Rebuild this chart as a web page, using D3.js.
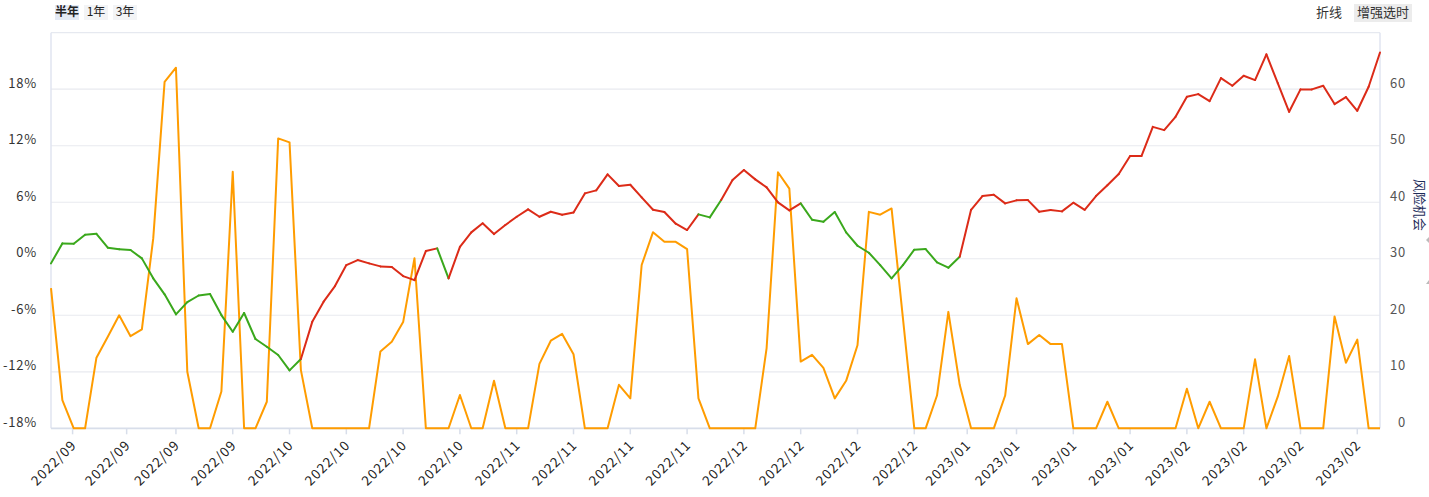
<!DOCTYPE html>
<html><head><meta charset="utf-8">
<script src="https://cdn.jsdelivr.net/npm/d3@7"></script>
<style>
html,body{margin:0;padding:0;background:#fff;}
svg{display:block;font-family:"Noto Sans CJK SC","Noto Sans",sans-serif;}
</style></head>
<body><svg id="c" width="1429" height="497"></svg>
<script>
// ---- data ----
const mainLine = [-0.49,1.63,1.6,2.55,2.65,1.17,1.0,0.93,0.04,-2.08,
-3.78,-5.9,-4.6,-3.9,-3.75,-5.98,-7.75,-5.76,-8.52,-9.34,
-10.22,-11.85,-10.65,-6.7,-4.56,-2.9,-0.67,-0.14,-0.49,-0.81,
-0.88,-1.84,-2.27,0.82,1.1,-2.08,1.27,2.8,3.76,2.62,
3.58,4.46,5.24,4.46,4.99,4.67,4.92,6.94,7.26,8.96,
7.72,7.86,6.52,5.2,4.96,3.72,3.05,4.71,4.39,6.23,
8.35,9.42,8.43,7.58,5.99,5.14,5.88,4.14,3.93,4.96,
2.8,1.38,0.64,-0.67,-2.08,-0.67,0.96,1.03,-0.38,-0.95,
0.21,5.2,6.66,6.8,5.88,6.2,6.23,4.99,5.17,5.03,
5.95,5.2,6.66,7.8,8.99,10.9,10.9,14.0,13.66,15.07,
17.2,17.48,16.74,19.18,18.37,19.43,18.97,21.7,18.65,15.6,
17.98,17.98,18.37,16.42,17.17,15.71,18.26,21.9];
const riskOpp = [24.8,5.0,0,0,12.5,16.2,20.0,16.3,17.5,33.6,
61.3,63.8,10.0,0,0,6.5,45.4,0,0,4.7,
51.3,50.6,10.3,0,0,0,0,0,0,13.6,
15.3,18.8,30.1,0,0,0,5.9,0,0,8.4,
0,0,0,11.4,15.5,16.7,13.1,0,0,0,
7.7,5.3,28.9,34.7,33.0,33.0,31.7,5.3,0,0,
0,0,0,14.2,45.3,42.4,11.8,13.0,10.7,5.3,
8.4,14.7,38.3,37.8,38.9,19.5,0,0,5.8,20.6,
7.7,0,0,0,5.8,23.0,14.9,16.5,14.9,14.9,
0,0,0,4.7,0,0,0,0,0,0,
7.0,0,4.7,0,0,0,12.2,0,5.6,12.8,
0,0,0,19.8,11.6,15.7,0,0];
// index ranges where the main line is drawn green (others red)
const greenRanges = [[0,22],[34,35],[57,59],[66,80]];
const tickAt = [1.9,6.66,11,16,21,26,31,36,41,46,51,56,61,66,71,76,80.66,85,90,95,100,105,110,115];
const tickLabels = ["2022/09","2022/09","2022/09","2022/09","2022/10","2022/10","2022/10","2022/10",
"2022/11","2022/11","2022/11","2022/11","2022/12","2022/12","2022/12","2022/12",
"2023/01","2023/01","2023/01","2023/01","2023/02","2023/02","2023/02","2023/02"];
const leftTicks = [-18,-12,-6,0,6,12,18];
const rightTicks = [0,10,20,30,40,50,60];

// ---- layout ----
const L=51, R=1380, T=32.7, B=428.3;
const svg = d3.select("#c");
const x = d3.scaleLinear().domain([0, mainLine.length-1]).range([L,R]);
const yL = d3.scaleLinear().domain([-18,24]).range([B,T]);
const yR = d3.scaleLinear().domain([0,70]).range([B,T]);

// grid
svg.append("g").selectAll("line").data(leftTicks.filter(d=>d>-18)).join("line")
  .attr("x1",L).attr("x2",R).attr("y1",d=>yL(d)).attr("y2",d=>yL(d))
  .attr("stroke","#e8eaef").attr("stroke-width",1.2);
// frame
svg.append("line").attr("x1",L).attr("x2",R).attr("y1",T).attr("y2",T).attr("stroke","#e6e9f0").attr("stroke-width",1.2);
svg.append("line").attr("x1",L).attr("x2",L).attr("y1",T).attr("y2",B).attr("stroke","#e0e5f0").attr("stroke-width",1.5);
svg.append("line").attr("x1",R).attr("x2",R).attr("y1",T).attr("y2",B).attr("stroke","#e0e5f0").attr("stroke-width",1.5);
svg.append("line").attr("x1",L).attr("x2",R).attr("y1",B).attr("y2",B).attr("stroke","#d8deea").attr("stroke-width",1.8);

// x ticks + labels
const xt = svg.append("g").selectAll("g").data(tickAt).join("g")
  .attr("transform",d=>`translate(${x(d)},${B})`);
xt.append("line").attr("y1",0).attr("y2",6).attr("stroke","#d8deea").attr("stroke-width",1.5);
xt.append("text").text((d,i)=>tickLabels[i])
  .attr("transform","translate(2,15) rotate(-45)")
  .attr("text-anchor","end").attr("dominant-baseline","middle")
  .attr("font-size",13.5).attr("letter-spacing",1).attr("fill","#222");

// left labels
svg.append("g").selectAll("text").data(leftTicks).join("text")
  .attr("x",37).attr("y",d=>yL(d)-5).attr("text-anchor","end").attr("dominant-baseline","middle")
  .attr("font-size",13).attr("fill","#333").attr("letter-spacing",0.8).text(d=>d+"%");
// right labels
svg.append("g").selectAll("text").data(rightTicks).join("text")
  .attr("x",1406).attr("y",d=>yR(d)-5).attr("text-anchor","end").attr("dominant-baseline","middle")
  .attr("font-size",13).attr("fill","#555").attr("letter-spacing",0.8).text(d=>d);
// right axis name
svg.append("text").attr("transform","translate(1419,205) rotate(90)")
  .attr("text-anchor","middle").attr("dominant-baseline","middle")
  .attr("font-size",13).attr("fill","#1d2c5a").text("风险机会");
// small arrows at edge
svg.append("path").attr("d","M1426,240 L1429,237 L1429,243 Z").attr("fill","#bbb");
svg.append("path").attr("d","M1426,284 L1429,280 L1429,284 Z").attr("fill","#bbb");

// orange line
const lineR = d3.line().x((d,i)=>x(i)).y(d=>yR(d));
svg.append("path").datum(riskOpp).attr("d",lineR)
  .attr("fill","none").attr("stroke","#ff9c00").attr("stroke-width",2).attr("stroke-linejoin","round");

// main line: red base + green segments
const pts = mainLine.map((v,i)=>[i,v]);
const lineL = d3.line().x(d=>x(d[0])).y(d=>yL(d[1]));
const isGreen = i => greenRanges.some(([a,b])=>i>=a && i<b);
for (let i=0;i<pts.length-1;i++){
  svg.append("path").datum([pts[i],pts[i+1]]).attr("d",lineL)
    .attr("fill","none").attr("stroke",isGreen(i)?"#3aa81c":"#dc2b18")
    .attr("stroke-width",2).attr("stroke-linecap","round");
}

// top buttons
const btnL = [{t:"半年",x:55,w:24,bg:"#e4eaf5",bold:true},{t:"1年",x:84,w:24,bg:"#f3f4f6"},{t:"3年",x:113,w:24,bg:"#f3f4f6"}];
const bg = svg.append("g").selectAll("g").data(btnL).join("g");
bg.append("rect").attr("x",d=>d.x).attr("y",5).attr("width",d=>d.w).attr("height",15).attr("fill",d=>d.bg);
bg.append("text").attr("x",d=>d.x+d.w/2).attr("y",12.5).attr("text-anchor","middle").attr("dominant-baseline","middle")
  .attr("font-size",12).attr("font-weight",d=>d.bold?"bold":"normal").attr("fill","#222").text(d=>d.t);
svg.append("text").attr("x",1329).attr("y",13).attr("text-anchor","middle").attr("dominant-baseline","middle")
  .attr("font-size",13).attr("fill","#333").text("折线");
svg.append("rect").attr("x",1354).attr("y",4).attr("width",58).attr("height",18).attr("fill","#ececec");
svg.append("text").attr("x",1383).attr("y",13).attr("text-anchor","middle").attr("dominant-baseline","middle")
  .attr("font-size",13).attr("fill","#333").text("增强选时");
</script></body></html>
